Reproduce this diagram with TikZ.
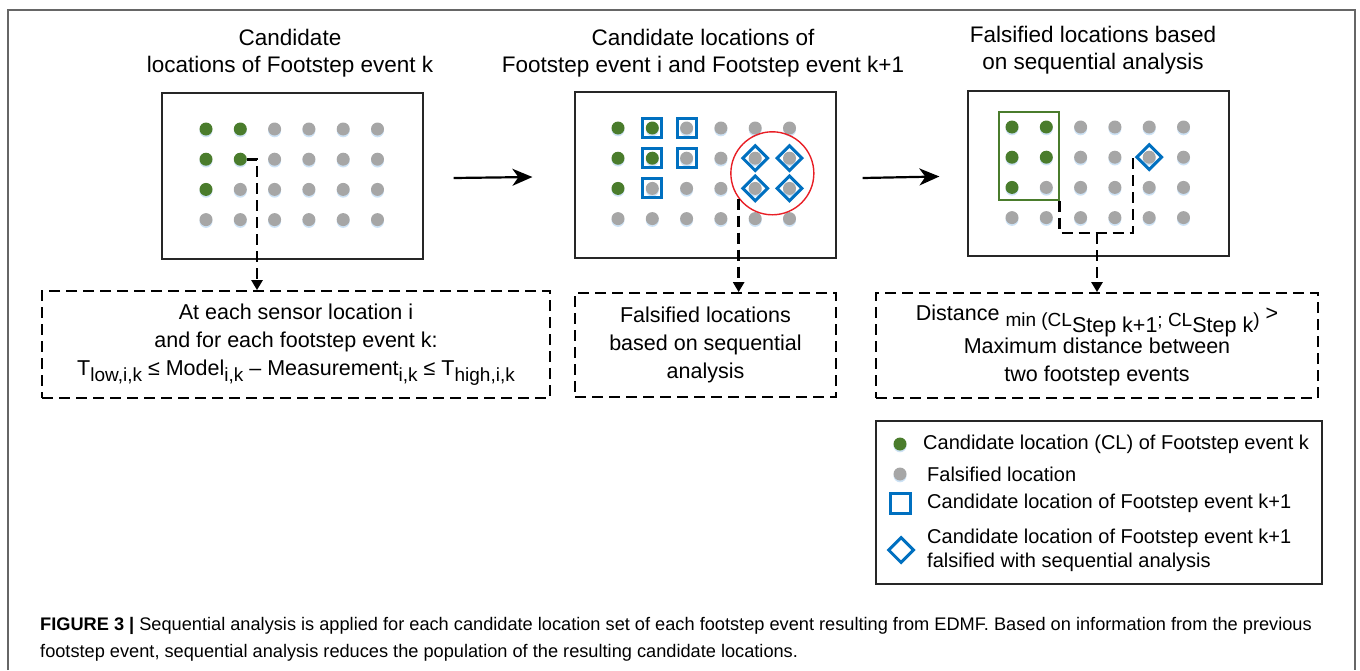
\documentclass[tikz,border=0pt]{standalone}
\usepackage{fontspec}
\setmainfont{Liberation Sans}
\usetikzlibrary{arrows.meta,shapes.geometric,positioning,calc}

\definecolor{candgreen}{RGB}{74,124,44}
\definecolor{falsegray}{RGB}{166,166,166}
\definecolor{markblue}{RGB}{0,112,192}
\definecolor{ringred}{RGB}{232,30,37}
\definecolor{shadeblue}{RGB}{205,226,245}

\tikzset{
	dot/.style={circle, inner sep=0pt, minimum size=13pt},
	dotshade/.style={fill=shadeblue},
	panel/.style={draw=black!85, line width=1.2pt, minimum width=261pt, minimum height=166pt},
	sqmark/.style={draw=markblue, line width=3pt, inner sep=0pt, minimum size=19pt},
	dimark/.style={diamond, draw=markblue, line width=3pt, inner sep=0pt, minimum size=26pt},
	rulebox/.style={draw, dash pattern=on 11pt off 6pt, line width=1.8pt, align=center, font=\fontsize{21.5}{28}\selectfont},
	dline/.style={dash pattern=on 11pt off 6pt, line width=2.7pt},
	conn/.style={dline, -{Triangle[length=10pt,width=11pt]}},
	flow/.style={line width=2.2pt, -{Stealth[length=20pt,width=17pt,inset=6pt]}},
	title/.style={align=center, font=\fontsize{22.5}{27}\selectfont},
	legtext/.style={anchor=west, align=left, inner sep=0pt, font=\fontsize{20}{24}\selectfont},
}

% lowered index text
\newcommand{\sbs}[1]{\raisebox{-0.5ex}{\fontsize{19}{19}\selectfont #1}}

% 6x4 grid of sensor locations, name / x0 / y0
\newcommand{\dotgrid}[3]{%
	\foreach \col in {0,...,5}{%
		\foreach \row in {0,...,3}{%
			\pgfmathtruncatemacro{\isgreen}{((\col==0)&&(\row<3))||((\col==1)&&(\row<2))}%
			\ifnum\isgreen=1 \def\dotcol{candgreen}\else\def\dotcol{falsegray}\fi
			\fill[dotshade] (#2+\col*34.3, #3+\row*30.2+1.8) circle (6.5pt);
			\node[dot, fill=\dotcol] (#1-\col-\row) at (#2+\col*34.3, #3+\row*30.2) {};
		}}}

\begin{document}
\begin{tikzpicture}[x=1pt, y=-1pt]
	\useasboundingbox (0,0) rectangle (1360,670);
	\draw[black!60, line width=1.2pt] (8,670) -- (8,10) -- (1355,10) -- (1355,670);

	% panels
	\node[panel] (b1) at (292.5,176) {};
	\node[panel] (b2) at (705.5,175) {};
	\node[panel, minimum height=165pt] (b3) at (1098.5,173.5) {};
	\node[title] (t1) at (290,53) {Candidate\\locations of Footstep event k};
	\node[title] (t2) at (703,53) {Candidate locations of\\Footstep event i and Footstep event k+1};
	\node[title] (t3) at (1093,50) {Falsified locations based\\on sequential analysis};

	\dotgrid{a}{206}{129}
	\dotgrid{b}{618}{128}
	\dotgrid{c}{1012}{127}

	\foreach \p in {1-0,2-0,1-1,2-1,1-2}
		\node[sqmark] (sq-\p) at (b-\p) {};
	\foreach \p in {4-1,5-1,4-2,5-2}
		\node[dimark] (dm-\p) at (b-\p) {};
	\node[circle, draw=ringred, line width=1.4pt, minimum size=83pt] (ring) at ($(b-4-1)!0.5!(b-5-2)$) {};

	\node[draw=candgreen, line width=1.5pt, minimum width=60pt, minimum height=88pt] (clk) at (1029,156) {};
	\node[dimark] (dm3) at (c-4-1) {};

	\draw[flow] ([xshift=30pt,yshift=-2pt]b1.east) -- ([xshift=-42pt,yshift=-2pt]b2.west);
	\draw[flow] ([xshift=26pt,yshift=-3pt]b2.east) -- ([xshift=-28pt,yshift=-3pt]b3.west);

	% rule boxes
	\node[rulebox, minimum width=508pt, minimum height=107pt] (f1) at (296,344.5)
		{At each sensor location i\\and for each footstep event k:\\T\sbs{low,i,k} ≤ Model\sbs{i,k} – Measurement\sbs{i,k} ≤ T\sbs{high,i,k}};
	\node[rulebox, minimum width=261pt, minimum height=104pt] (f2) at (705.5,345)
		{Falsified locations\\based on sequential\\analysis};
	\node[rulebox, minimum width=442pt, minimum height=105pt] (f3) at (1097,345.5)
		{Distance \sbs{min (CL}\raisebox{-1ex}{Step k+1}\sbs{; CL}\raisebox{-1ex}{Step k}\sbs{)} >\\Maximum distance between\\two footstep events};

	\draw[conn] (a-1-1.east) -| ([xshift=-39pt]f1.north);
	\draw[conn] (ring.217) -- (ring.217 |- f2.north);
	\coordinate (jn) at (1133,233);
	\draw[dline] (clk.south east) |- (jn) |- (dm3.west);
	\draw[conn] (f3.north |- jn) -- (f3.north);

	% legend
	\node[draw=black!85, line width=1.2pt, minimum width=446pt, minimum height=163pt] (lg) at (1099,502.5) {};
	\fill[dotshade] (900,445.8) circle (6.5pt);
	\node[dot, fill=candgreen] (lg-g) at (900,444) {};
	\node[legtext] (lg-gt) at (923,444) {Candidate location (CL) of Footstep event k};
	\fill[dotshade] (900,475.8) circle (6.5pt);
	\node[dot, fill=falsegray] (lg-f) at (900,474) {};
	\node[legtext] (lg-ft) at (927,474) {Falsified location};
	\node[sqmark, minimum size=20pt] (lg-s) at (900,503) {};
	\node[legtext] (lg-st) at (927,503) {Candidate location of Footstep event k+1};
	\node[dimark] (lg-d) at (901,550) {};
	\node[legtext] (lg-dt) at (927,550) {Candidate location of Footstep event k+1\\falsified with sequential analysis};

	% caption
	\node[anchor=north west, align=left, inner sep=0pt, font=\fontsize{18.2}{27}\selectfont] (cap) at (40,617)
		{\textbf{FIGURE 3 |} Sequential analysis is applied for each candidate location set of each footstep event resulting from EDMF. Based on information from the previous\\footstep event, sequential analysis reduces the population of the resulting candidate locations.};
\end{tikzpicture}
\end{document}
